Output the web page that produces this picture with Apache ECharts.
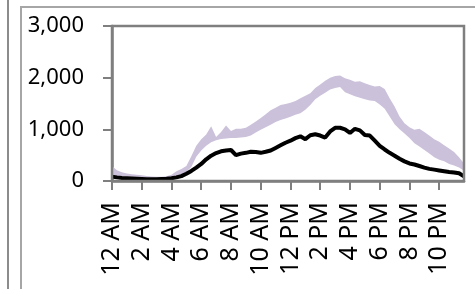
<!DOCTYPE html>
<head>
    <meta charset="utf-8">
    <title>ECharts</title>
    <style>body{margin:0;background:#fff}</style>
</head>
<body>
   <div id="main" style="width:475px;height:289px"></div>
     <script src="https://cdn.jsdelivr.net/npm/echarts@6/dist/echarts.min.js"></script>
      <script type="text/javascript">

    // tick labels, one per 2 hours
    var tickLabels = ['12 AM','2 AM','4 AM','6 AM','8 AM','10 AM','12 PM','2 PM','4 PM','6 PM','8 PM','10 PM'];

    // 20-minute slots, 12:00 AM .. 11:40 PM
    var categories = [];
    for (var h = 0; h < 24; h++) {
        for (var m = 0; m < 60; m += 20) {
            categories.push(h + ':' + (m < 10 ? '0' : '') + m);
        }
    }

    // black line
    var lineValues = [85,70,60,55,50,45,40,35,35,35,40,45,
        55,70,95,140,195,260,330,420,490,540,575,590,
        600,500,530,545,565,560,545,565,590,640,690,740,
        780,830,865,810,885,905,880,840,960,1030,1030,1000,
        930,1010,980,890,880,780,680,610,545,490,430,380,
        340,320,290,260,235,220,205,190,175,165,150,90];

    // lavender band, lower and upper edges
    var bandLow = [50,45,40,35,30,30,25,25,20,20,25,30,
        40,60,110,180,270,470,590,680,750,790,815,825,
        830,830,840,850,880,940,990,1040,1090,1140,1180,1210,
        1245,1280,1310,1380,1470,1580,1650,1710,1770,1800,1820,1720,
        1680,1640,1610,1580,1560,1550,1480,1400,1250,1100,1000,920,
        830,730,670,600,530,460,410,380,330,300,260,200];
    var bandHigh = [290,210,170,145,130,120,110,95,85,80,80,90,
        120,190,230,290,480,680,810,900,1060,850,950,1075,
        970,1010,1010,1030,1090,1150,1220,1290,1370,1420,1470,1490,
        1515,1550,1600,1650,1700,1800,1870,1940,2000,2030,2040,1990,
        1960,1920,1930,1890,1860,1830,1840,1780,1600,1440,1250,1120,
        1040,990,1010,950,880,810,760,690,630,560,460,340];

    var bandSpan = bandHigh.map(function (v, i) { return v - bandLow[i]; });

    var myChart = echarts.init(document.getElementById("main"));
    var axisGray = '#7f7f7f';
    option = {
        animation: false,
        graphic: [
            {type: 'line', shape: {x1: 8, y1: 0, x2: 8, y2: 289}, style: {stroke: '#8c8c8c', lineWidth: 2}},
            {type: 'polyline', shape: {points: [[21, 289], [21, 7], [475, 7]]}, style: {fill: 'none', stroke: '#a6a6a6', lineWidth: 2}},
            // plot area frame
            {type: 'rect', z: 100, shape: {x: 112, y: 26, width: 352, height: 155}, style: {fill: 'none', stroke: axisGray, lineWidth: 2.5}}
        ],
        grid: {
            left: 112, right: 11, top: 26, bottom: 108
        },
        xAxis: {
            type: 'category',
            data: categories,
            boundaryGap: false,
            axisLine: {show: true, lineStyle: {color: axisGray, width: 2.5}},
            axisTick: {interval: 5, length: 9, lineStyle: {color: axisGray, width: 2}},
            axisLabel: {
                interval: 5,
                rotate: 90,
                margin: 21,
                color: '#000',
                fontFamily: 'Noto Sans',
                fontSize: 25,
                formatter: function (v, i) { return tickLabels[i / 6]; }
            },
            splitLine: {show: false}
        },
        yAxis: {
            type: 'value',
            min: 0,
            max: 3000,
            interval: 1000,
            axisLine: {show: true, lineStyle: {color: axisGray, width: 2.5}},
            axisTick: {show: true, length: 9, lineStyle: {color: axisGray, width: 2}},
            axisLabel: {
                margin: 28,
                color: '#000',
                fontFamily: 'Noto Sans',
                fontSize: 22,
                formatter: function (v) { return v.toLocaleString('en-US'); }
            },
            splitLine: {show: false}
        },
        series: [
            {
                name: 'low',
                type: 'line',
                stack: 'band',
                data: bandLow,
                symbol: 'none',
                lineStyle: {width: 0, opacity: 0},
                areaStyle: {opacity: 0}
            },
            {
                name: 'band',
                type: 'line',
                stack: 'band',
                data: bandSpan,
                symbol: 'none',
                lineStyle: {width: 0, opacity: 0},
                areaStyle: {color: '#ccc1da', opacity: 1}
            },
            {
                name: 'line',
                type: 'line',
                data: lineValues,
                symbol: 'none',
                z: 5,
                lineStyle: {color: '#000', width: 4}
            }
        ]
    };
    myChart.setOption(option);

</script>
</body>
